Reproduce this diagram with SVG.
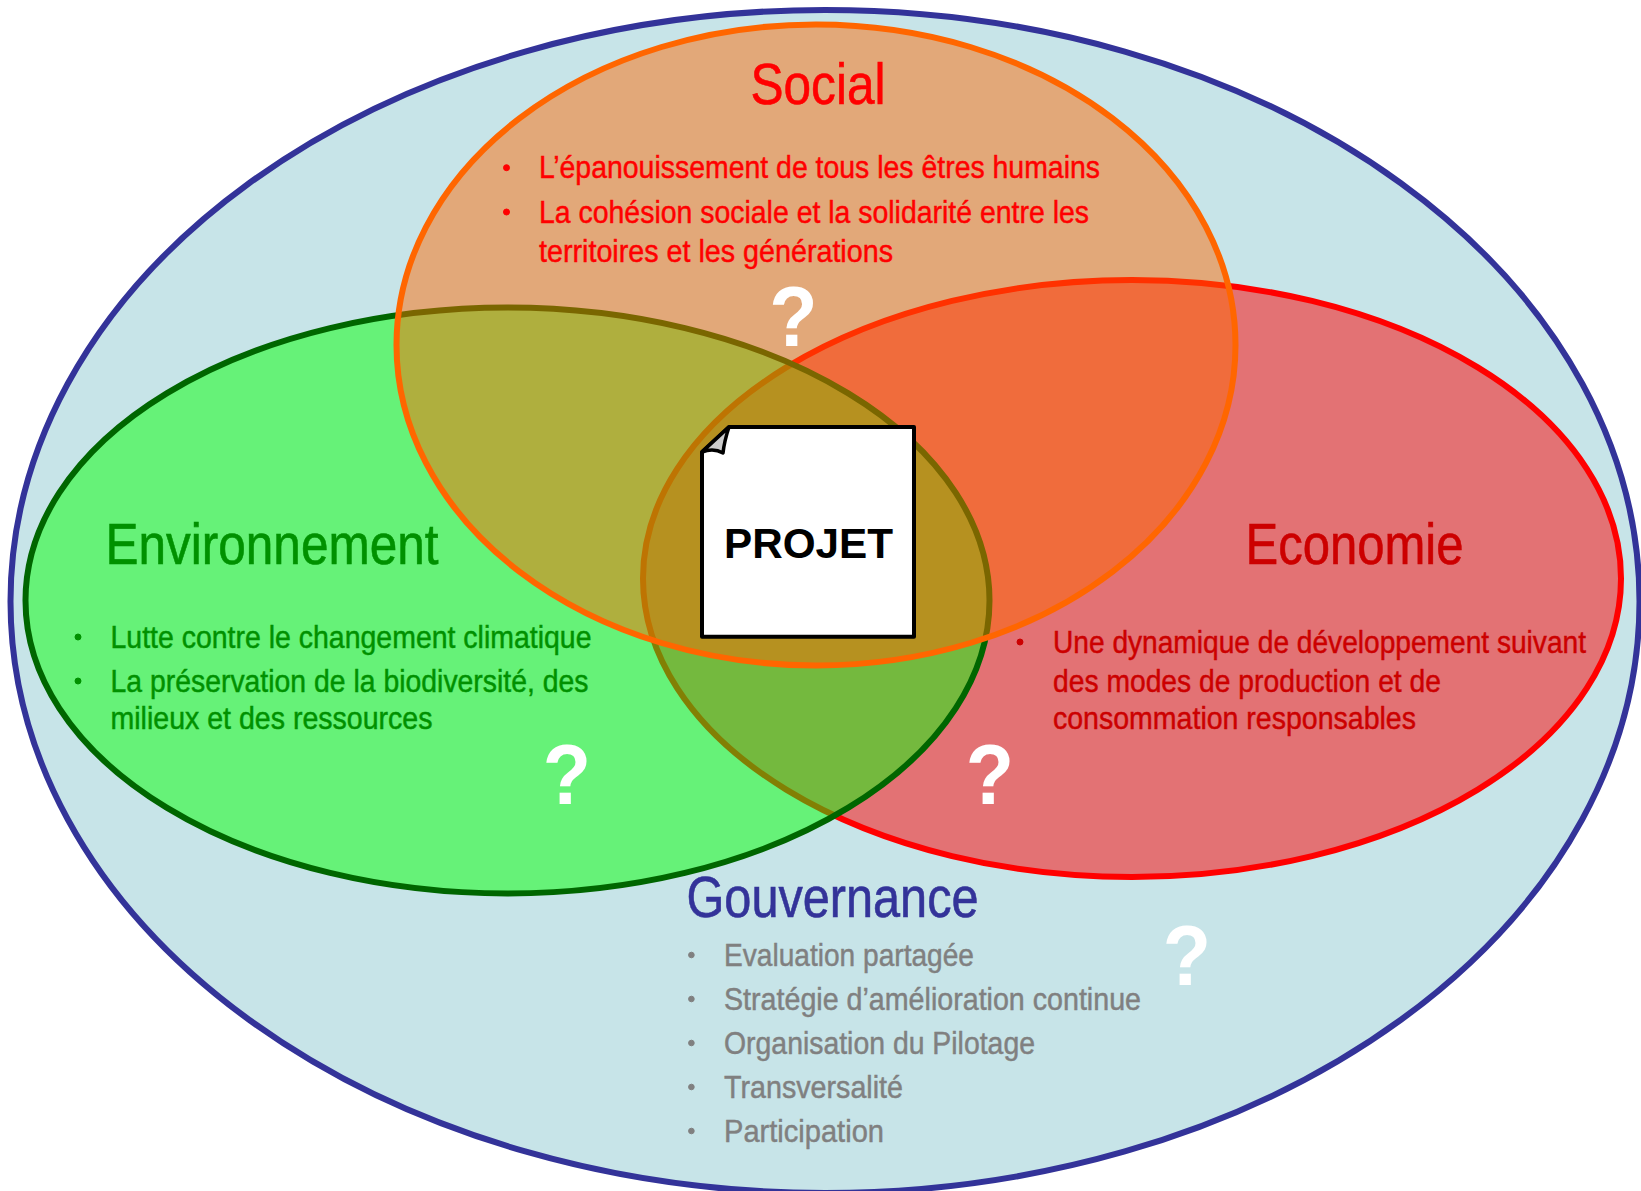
<svg xmlns="http://www.w3.org/2000/svg" width="1641" height="1191" viewBox="0 0 1641 1191">
<style>
text{font-family:"Liberation Sans Narrow","Liberation Sans",Arial,sans-serif;}
.title{font-size:58px;stroke-width:.6px;}
.body{font-size:31px;stroke-width:.45px;}
.q{font-family:"Liberation Sans",Arial,sans-serif;font-size:85px;font-weight:bold;fill:#fff;text-anchor:middle;}
.e{stroke-width:6px;}
.red{fill:#f00;stroke:#f00}.dred{fill:#c00;stroke:#c00}.grn{fill:#009100;stroke:#009100}.gry{fill:#808080;stroke:#808080}.blu{fill:#333399;stroke:#333399}
</style>
<rect width="1641" height="1191" fill="#fff"/>
<g id="gouvernance">
<ellipse class="e" cx="825" cy="601.5" rx="814.5" ry="591.5" fill="#c7e4e8" stroke="#333399"/>
<text class="title blu" x="686.5" y="916.7" textLength="292" lengthAdjust="spacingAndGlyphs">Gouvernance</text>
<g class="gry">
<circle cx="691.4" cy="955" r="2.8"/><circle cx="691.4" cy="999" r="2.8"/><circle cx="691.4" cy="1043" r="2.8"/><circle cx="691.4" cy="1087" r="2.8"/><circle cx="691.4" cy="1131" r="2.8"/>
</g>
<text class="body gry" x="724" y="965.7" textLength="250" lengthAdjust="spacingAndGlyphs">Evaluation partagée</text>
<text class="body gry" x="724" y="1009.7" textLength="417" lengthAdjust="spacingAndGlyphs">Stratégie d’amélioration continue</text>
<text class="body gry" x="724" y="1053.7" textLength="311" lengthAdjust="spacingAndGlyphs">Organisation du Pilotage</text>
<text class="body gry" x="724" y="1097.7" textLength="179" lengthAdjust="spacingAndGlyphs">Transversalité</text>
<text class="body gry" x="724" y="1141.7" textLength="160" lengthAdjust="spacingAndGlyphs">Participation</text>
<text class="q" transform="translate(1187 984.5) scale(.93 1)">?</text>
</g>
<g id="economie">
<ellipse class="e" cx="1132" cy="578.5" rx="489" ry="298.5" fill="#f00" fill-opacity="0.5" stroke="#f00"/>
<text class="title dred" x="1245.5" y="564" textLength="218" lengthAdjust="spacingAndGlyphs">Economie</text>
<circle class="dred" cx="1020" cy="642" r="3"/>
<text class="body dred" x="1053" y="652.7" textLength="533" lengthAdjust="spacingAndGlyphs">Une dynamique de développement suivant</text>
<text class="body dred" x="1053" y="691.7" textLength="388" lengthAdjust="spacingAndGlyphs">des modes de production et de</text>
<text class="body dred" x="1053" y="729.3" textLength="363" lengthAdjust="spacingAndGlyphs">consommation responsables</text>
<text class="q" transform="translate(990 804) scale(.93 1)">?</text>
</g>
<g id="environnement">
<ellipse class="e" cx="507.5" cy="600.5" rx="482" ry="293" fill="#05ff08" fill-opacity="0.5" stroke="#006600"/>
<text class="title grn" x="105.5" y="564" textLength="333" lengthAdjust="spacingAndGlyphs">Environnement</text>
<circle class="grn" cx="78" cy="637" r="3"/><circle class="grn" cx="78" cy="681" r="3"/>
<text class="body grn" x="110.5" y="647.7" textLength="481" lengthAdjust="spacingAndGlyphs">Lutte contre le changement climatique</text>
<text class="body grn" x="110.5" y="691.7" textLength="478" lengthAdjust="spacingAndGlyphs">La préservation de la biodiversité, des</text>
<text class="body grn" x="110.5" y="729.3" textLength="322" lengthAdjust="spacingAndGlyphs">milieux et des ressources</text>
<text class="q" transform="translate(567 803.5) scale(.93 1)">?</text>
</g>
<g id="social">
<ellipse class="e" cx="816" cy="345" rx="419.5" ry="320.5" fill="#f60" fill-opacity="0.48" stroke="#f60"/>
<text class="title red" x="750.5" y="104" textLength="135" lengthAdjust="spacingAndGlyphs">Social</text>
<circle class="red" cx="506.5" cy="167.7" r="3"/><circle class="red" cx="506.5" cy="212" r="3"/>
<text class="body red" x="539" y="178.3" textLength="561" lengthAdjust="spacingAndGlyphs">L’épanouissement de tous les êtres humains</text>
<text class="body red" x="539" y="222.7" textLength="550" lengthAdjust="spacingAndGlyphs">La cohésion sociale et la solidarité entre les</text>
<text class="body red" x="539" y="261.7" textLength="354" lengthAdjust="spacingAndGlyphs">territoires et les générations</text>
<text class="q" transform="translate(793.5 346) scale(.93 1)">?</text>
</g>
<g id="projet">
<path d="M729 427H914V636.7H702V452Z" fill="#fff" stroke="#000" stroke-width="4" stroke-linejoin="round"/>
<path d="M729 427L702 452C710 449 716 449 723 453C724 444 726 436 729 427Z" fill="#ccc" stroke="#000" stroke-width="3.5" stroke-linejoin="round"/>
<text x="724" y="557.7" style="font-family:'Liberation Sans',Arial,sans-serif;font-size:42.5px;font-weight:bold" textLength="169" lengthAdjust="spacingAndGlyphs">PROJET</text>
</g>
</svg>
